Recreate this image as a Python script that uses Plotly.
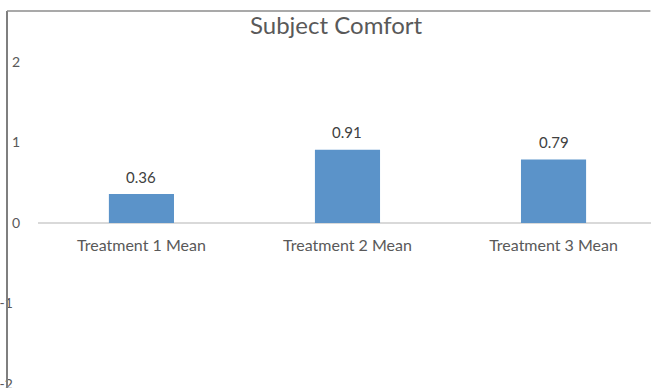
import plotly.graph_objects as go

categories = ["Treatment 1 Mean", "Treatment 2 Mean", "Treatment 3 Mean"]
values = [0.36, 0.91, 0.79]
y_ticks = [-2, -1, 0, 1, 2]
y_tick_text = ["-2\u00a0\u00a0", "-1\u00a0\u00a0", "0", "1", "2"]
title = "Subject Comfort"

W, H = 651, 388
L = 38
pw = W - L
FONT = "Lato, Open Sans, sans-serif"
GRAY = "#595959"

fig = go.Figure()
fig.add_trace(go.Bar(
    x=list(range(len(categories))), y=values,
    width=0.316,
    marker=dict(color="#5b93c9", line=dict(width=0)),
    hoverinfo="skip",
))

annotations = [dict(
    text=f"{v:.2f}", x=i, y=v, xref="x", yref="y",
    showarrow=False, xanchor="center", yanchor="middle", yshift=17.5,
    font=dict(family=FONT, size=15, color="#404040"),
) for i, v in enumerate(values)]

annotations.append(dict(
    text=title, x=(336 - L) / pw, y=(H - 25) / H, xref="paper", yref="paper",
    showarrow=False, xanchor="center", yanchor="middle",
    font=dict(family=FONT, size=24, color=GRAY),
))

fig.update_layout(
    width=W, height=H,
    margin=dict(l=L, r=0, t=0, b=0, autoexpand=False),
    paper_bgcolor="white", plot_bgcolor="white",
    showlegend=False,
    xaxis=dict(
        range=[-0.502, 2.473],
        tickmode="array", tickvals=list(range(len(categories))), ticktext=categories,
        showgrid=False, showline=False, zeroline=False,
        anchor="free", position=(H - 223) / H,
        tickfont=dict(family=FONT, size=16, color=GRAY),
        ticks="", ticklabelstandoff=11, automargin=False,
    ),
    yaxis=dict(
        range=[(223 - H) / 80.5, 223 / 80.5],
        tickmode="array", tickvals=y_ticks, ticktext=y_tick_text,
        showgrid=False, showline=False,
        zeroline=True, zerolinecolor="#d9d9d9", zerolinewidth=1.5,
        tickfont=dict(family=FONT, size=14, color=GRAY),
        ticks="", ticklabelstandoff=17, automargin=False,
        ticklabeloverflow="allow",
    ),
    annotations=annotations,
    shapes=[
        dict(type="line", xref="paper", yref="paper",
             x0=(7 - L) / pw, x1=(7 - L) / pw, y0=(H - 11) / H, y1=0,
             line=dict(color="#7f7f7f", width=2)),
        dict(type="line", xref="paper", yref="paper",
             x0=(7 - L) / pw, x1=0.999, y0=(H - 11) / H, y1=(H - 11) / H,
             line=dict(color="#8c8c8c", width=1.5)),
    ],
)

fig.write_html("out.html", config={"displayModeBar": False})
